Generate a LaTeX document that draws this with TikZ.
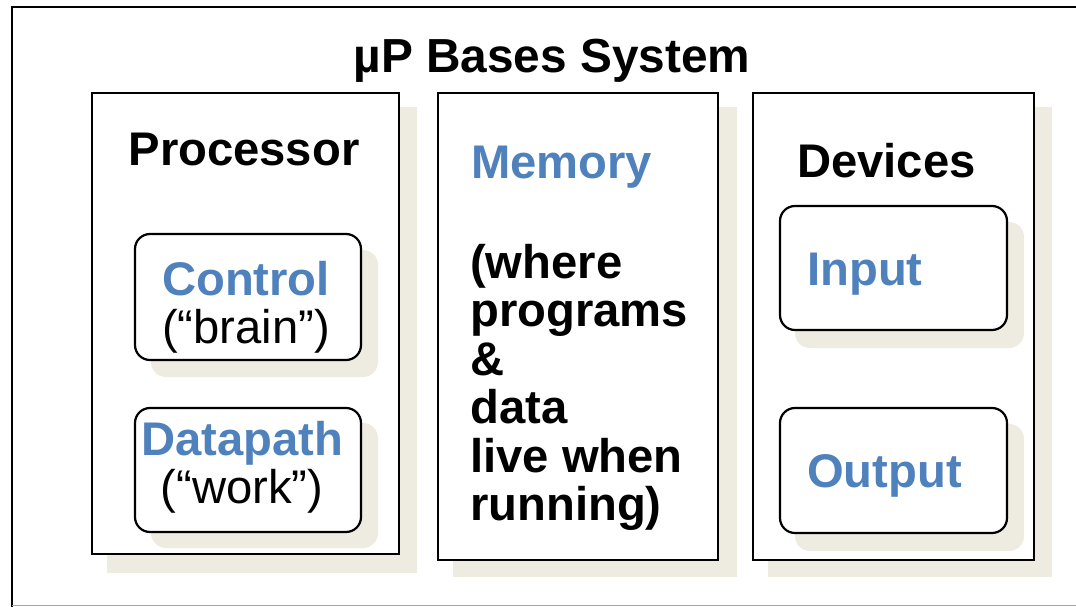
\documentclass[tikz,border=0pt]{standalone}
\usepackage{fontspec}
\setmainfont{Liberation Sans}

\definecolor{upblue}{RGB}{79,129,189}
\definecolor{shadetan}{RGB}{238,236,225}

\tikzset{
  frame/.style={line width=2.6pt, black},
  unit box/.style={line width=2.6pt, black, fill=white},
  part box/.style={line width=2.2pt, black, fill=white, rounded corners=15pt},
  box shade/.style={fill=shadetan},
  part shade/.style={fill=shadetan, rounded corners=15pt},
  big text/.style={font=\fontsize{47.2}{48.4}\selectfont\bfseries, inner sep=0pt},
  plain text/.style={font=\fontsize{47.2}{48.4}\selectfont, inner sep=0pt},
}

\begin{document}
\begin{tikzpicture}[x=1pt, y=-1pt]
  \useasboundingbox (0,0) rectangle (1076,607);

  % slide frame
  \draw[frame] (1076,7) -- (12,7) -- (12,607);
  \draw[gray!70, line width=1pt] (12,605.5) -- (1076,605.5);
  \draw (552,73) node (title) [big text, anchor=base, font=\fontsize{47.8}{48.4}\selectfont\bfseries] {µP Bases System};

  % the three units, shadow first
  \fill[box shade] (107,107) rectangle (417,573);
  \fill[box shade] (453,107) rectangle (737,577);
  \fill[box shade] (768,107) rectangle (1052,577);
  \draw[unit box] (92,93) rectangle (399,554);
  \draw[unit box] (438,93) rectangle (718,560);
  \draw[unit box] (753,93) rectangle (1034,560);

  % rounded parts inside processor and devices
  \fill[part shade] (151,250) rectangle (378,377);
  \fill[part shade] (151,423) rectangle (378,548);
  \fill[part shade] (795,222) rectangle (1024,348);
  \fill[part shade] (795,424) rectangle (1024,551);
  \draw[part box] (135,234) rectangle (361,360);
  \draw[part box] (135,408) rectangle (361,532);
  \draw[part box] (780,206) rectangle (1007,330);
  \draw[part box] (780,408) rectangle (1007,533);

  % processor
  \draw (244,165) node (processor) [big text, anchor=base] {Processor};
  \draw (246,295) node (control) [big text, anchor=base, upblue] {Control};
  \draw (246,343) node (brain) [plain text, anchor=base] {(“brain”)};
  \draw (242,455) node (datapath) [big text, anchor=base, upblue] {Datapath};
  \draw (242,503) node (work) [plain text, anchor=base] {(“work”)};

  % memory
  \draw (471,178) node (memory) [big text, anchor=base west, upblue] {Memory};
  \draw (470,244) node (where) [big text, anchor=north west, align=left]
        {(where\\programs\\\&\\data\\live when\\running)};

  % devices
  \draw (797,177) node (devices) [big text, anchor=base west] {Devices};
  \draw (807,285) node (input) [big text, anchor=base west, upblue] {Input};
  \draw (807,487) node (output) [big text, anchor=base west, upblue] {Output};
\end{tikzpicture}
\end{document}
